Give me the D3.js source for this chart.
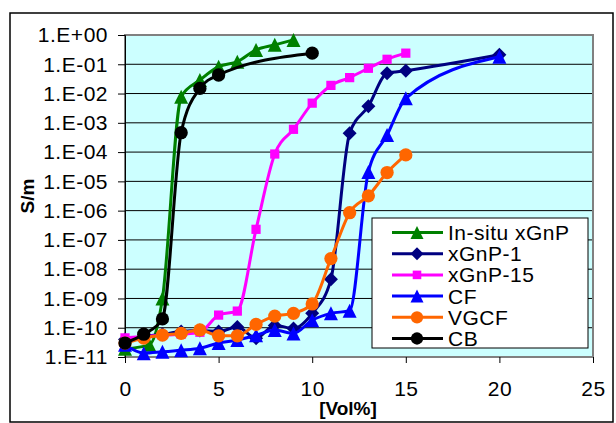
<!DOCTYPE html>
<html>
<head>
<meta charset="utf-8">
<script src="https://cdnjs.cloudflare.com/ajax/libs/d3/7.8.5/d3.min.js"></script>
<style>
  body { margin: 0; background: #fff; }
  svg text { font-family: Arial, "Liberation Sans", sans-serif; fill: #000; }
</style>
</head>
<body>
<svg id="chart"></svg>
<script>
// values: [Vol%, S/m]
const inSituXgnp = [[0, 1.9e-11], [1.3, 2.6e-11], [2, 1e-9], [3, 7.8e-3], [4, 2.9e-2], [5, 8.3e-2], [6, 0.123], [7, 0.31], [8, 0.46], [9, 0.68]];
const xgnp1 = [[0, 4e-11], [1, 5e-11], [2, 6e-11], [3, 7.4e-11], [4, 8e-11], [5, 7.5e-11], [6, 1.05e-10], [7, 4.4e-11], [8, 1.2e-10], [9, 9.5e-11], [10, 3.1e-10], [11, 4.5e-9], [12, 4.4e-4], [13, 3.7e-3], [14, 4.9e-2], [15, 6e-2], [20, 0.21]];
const xgnp15 = [[0, 4.5e-11], [1, 5e-11], [2, 5.5e-11], [3, 6e-11], [4, 7e-11], [5, 2.7e-10], [6, 3.7e-10], [7, 2.3e-7], [8, 8.6e-5], [9, 6e-4], [10, 4.7e-3], [11, 1.9e-2], [12, 3.5e-2], [13, 7.3e-2], [14, 0.148], [15, 0.24]];
const cf = [[0, 2.6e-11], [1, 1.35e-11], [2, 1.5e-11], [3, 1.7e-11], [4, 2e-11], [5, 3e-11], [6, 3.8e-11], [7, 5.5e-11], [8, 8.3e-11], [9, 6.4e-11], [10, 1.8e-10], [11, 3.1e-10], [12, 3.8e-10], [13, 2.1e-5], [14, 3.8e-4], [15, 6.9e-3], [20, 0.18]];
const vgcf = [[0, 3e-11], [1, 4.4e-11], [2, 5.6e-11], [3, 6.4e-11], [4, 8.4e-11], [5, 5.3e-11], [6, 5.3e-11], [7, 1.3e-10], [8, 2.5e-10], [9, 3.1e-10], [10, 6.5e-10], [11, 2.3e-8], [12, 8.5e-7], [13, 3.2e-6], [14, 2e-5], [15, 8e-5]];
const cb = [[0, 3e-11], [1, 6e-11], [2, 2e-10], [3, 4.6e-4], [4, 1.5e-2], [5, 4.3e-2], [10, 0.24]];

const seriesNames = ["In-situ xGnP", "xGnP-1", "xGnP-15", "CF", "VGCF", "CB"];
const seriesColors = ["#008000", "#000080", "#ff00ff", "#0000ff", "#ff6600", "#000000"];
const seriesMarkers = ["triangle", "diamond", "square", "triangle", "circle", "circle"];
const xTicks = [0, 5, 10, 15, 20, 25];
const yTicks = [1e0, 1e-1, 1e-2, 1e-3, 1e-4, 1e-5, 1e-6, 1e-7, 1e-8, 1e-9, 1e-10, 1e-11];
const yTickLabels = ["1.E+00", "1.E-01", "1.E-02", "1.E-03", "1.E-04", "1.E-05", "1.E-06", "1.E-07", "1.E-08", "1.E-09", "1.E-10", "1.E-11"];

const allData = [inSituXgnp, xgnp1, xgnp15, cf, vgcf, cb];

const width = 616, height = 423;
const margin = {top: 35, right: 23, bottom: 66, left: 125};
const innerW = width - margin.left - margin.right;
const innerH = height - margin.top - margin.bottom;

const svg = d3.select("#chart").attr("width", width).attr("height", height);

// outer chart frame
svg.append("rect")
    .attr("x", 10).attr("y", 13)
    .attr("width", 603).attr("height", 409)
    .attr("fill", "#fff").attr("stroke", "#000").attr("stroke-width", 1.5);

const chart = svg.append("g").attr("transform", `translate(${margin.left},${margin.top})`);

const x = d3.scaleLinear().domain([0, 25]).range([0, innerW]);
const y = d3.scaleLog().domain([1e-11, 1]).range([innerH, 0]);

chart.append("rect")
    .attr("width", innerW).attr("height", innerH)
    .attr("fill", "#ccffff");

// horizontal gridlines
chart.append("g")
  .selectAll("line")
  .data(yTicks.slice(1, -1))
  .join("line")
    .attr("x1", 0).attr("x2", innerW)
    .attr("y1", d => y(d)).attr("y2", d => y(d))
    .attr("stroke", "#000").attr("stroke-width", 1);

chart.append("rect")
    .attr("width", innerW).attr("height", innerH)
    .attr("fill", "none").attr("stroke", "#808080").attr("stroke-width", 2);

// axes
const yAxis = d3.axisLeft(y).tickValues(yTicks)
    .tickFormat((d, i) => yTickLabels[i]).tickSizeOuter(0).tickSize(7).tickPadding(10);
const xAxis = d3.axisBottom(x).tickValues(xTicks).tickSizeOuter(0).tickSize(6).tickPadding(18);

const yAxisG = chart.append("g").call(yAxis);
const xAxisG = chart.append("g").attr("transform", `translate(0,${innerH})`).call(xAxis);
[yAxisG, xAxisG].forEach(g => {
  g.select(".domain").attr("stroke", "#000").attr("stroke-width", 1);
  g.selectAll(".tick line").attr("stroke", "#000");
  g.selectAll(".tick text")
      .style("font-size", "21px").style("letter-spacing", "0.5px")
      .attr("font-family", null);
});
xAxisG.select(".domain").remove();

function markerPath(type, s) {
  const h = s / 2;
  if (type === "triangle") return `M0,${-h}L${h},${h}L${-h},${h}Z`;
  if (type === "diamond") return `M0,${-h}L${h},0L0,${h}L${-h},0Z`;
  if (type === "square") { const q = s * 0.33; return `M${-q},${-q}H${q}V${q}H${-q}Z`; }
  return d3.symbol(d3.symbolCircle, Math.PI * h * h * 0.9)();
}

// smoothed lines, S-shaped on the steep jumps like the original
const line = d3.line()
    .x(d => x(d[0]))
    .y(d => y(d[1]))
    .curve(d3.curveMonotoneX);

allData.forEach((data, i) => {
  const g = chart.append("g").attr("class", "series");
  g.append("path")
      .datum(data)
      .attr("d", line)
      .attr("fill", "none")
      .attr("stroke", seriesColors[i])
      .attr("stroke-width", 3);
  g.selectAll("path.mark")
    .data(data)
    .join("path")
      .attr("class", "mark")
      .attr("transform", d => `translate(${x(d[0])},${y(d[1])})`)
      .attr("d", markerPath(seriesMarkers[i], 14))
      .attr("fill", seriesColors[i]);
});

// legend
const legend = svg.append("g").attr("transform", "translate(372,218)");
legend.append("rect")
    .attr("width", 216).attr("height", 130)
    .attr("fill", "#fff").attr("stroke", "#000").attr("stroke-width", 1);

seriesNames.forEach((name, i) => {
  const row = legend.append("g").attr("transform", `translate(0,${14.5 + i * 21.2})`);
  row.append("line")
      .attr("x1", 20).attr("x2", 71)
      .attr("stroke", seriesColors[i]).attr("stroke-width", 3);
  row.append("path")
      .attr("transform", "translate(45,0)")
      .attr("d", markerPath(seriesMarkers[i], 13))
      .attr("fill", seriesColors[i]);
  row.append("text")
      .attr("x", 76).attr("y", 7.5)
      .style("font-size", "21px").style("letter-spacing", "0.5px")
      .text(name);
});

// axis titles
svg.append("text")
    .attr("x", 348).attr("y", 415)
    .attr("text-anchor", "middle")
    .style("font-size", "19px").style("font-weight", "bold")
    .text("[Vol%]");

svg.append("text")
    .attr("transform", "translate(34,196) rotate(-90)")
    .attr("text-anchor", "middle")
    .style("font-size", "19px").style("font-weight", "bold")
    .text("S/m");
</script>
</body>
</html>
